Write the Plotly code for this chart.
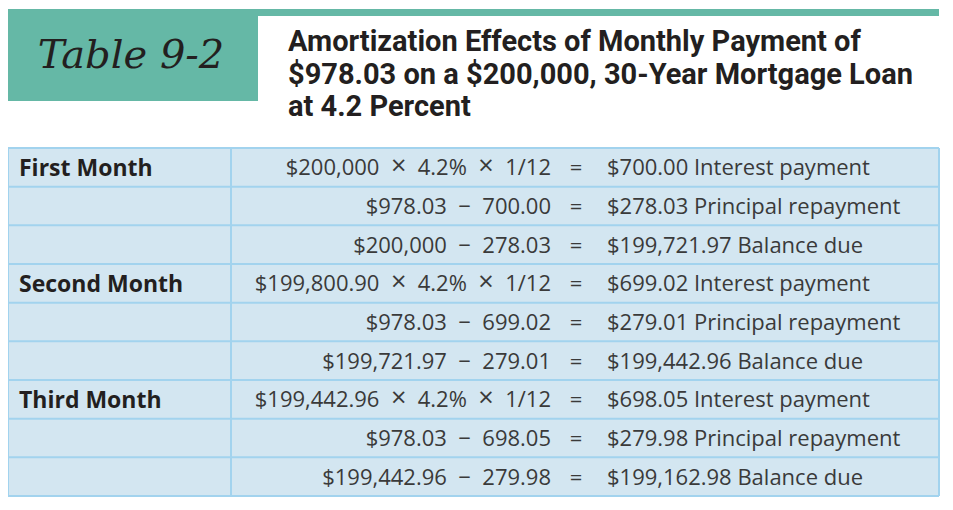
import plotly.graph_objects as go

# ---- data ----
table_label = "Table 9-2"
title_lines = [
    "Amortization Effects of Monthly Payment of",
    "$978.03 on a $200,000, 30-Year Mortgage Loan",
    "at 4.2 Percent",
]
months = ["First Month", "", "", "Second Month", "", "", "Third Month", "", ""]
expressions = [
    "$200,000 \u00d7 4.2% \u00d7 1/12",
    "$978.03 \u2212 700.00",
    "$200,000 \u2212 278.03",
    "$199,800.90 \u00d7 4.2% \u00d7 1/12",
    "$978.03 \u2212 699.02",
    "$199,721.97 \u2212 279.01",
    "$199,442.96 \u00d7 4.2% \u00d7 1/12",
    "$978.03 \u2212 698.05",
    "$199,442.96 \u2212 279.98",
]
results = [
    "$700.00 Interest payment",
    "$278.03 Principal repayment",
    "$199,721.97 Balance due",
    "$699.02 Interest payment",
    "$279.01 Principal repayment",
    "$199,442.96 Balance due",
    "$698.05 Interest payment",
    "$279.98 Principal repayment",
    "$199,162.98 Balance due",
]

# ---- layout constants (data coords == screen pixels) ----
PAGE_OFF = 8          # default body margin of the html page
W, H = 953, 510
TEAL = "#65b8a6"
FILL = "#d3e6f1"
BORDER = "#a2d3ee"
TXT = "#3a3a3a"
DARK = "#231f20"

T_LEFT, T_RIGHT, T_TOP, T_BOT = 8, 939, 148, 496
DIV_X = 231
n = len(months)
row_h = (T_BOT - T_TOP) / n
TEXT_DY = 2.5
rows_y = [T_TOP + (i + 0.5) * row_h + TEXT_DY for i in range(n)]


def pad_ops(s):
    # the typeset original uses wide spacing and a larger times sign
    s = s.replace(" \u00d7 ", "\u00a0 <span style='font-size:27px'>\u00d7</span> \u00a0")
    s = s.replace(" \u2212 ", "\u00a0 \u2212 \u00a0")
    return s


fig = go.Figure()

shapes = []
shapes.append(dict(type="rect", x0=258, x1=939, y0=9, y1=16, fillcolor=TEAL, line_width=0, layer="below"))
shapes.append(dict(type="rect", x0=7, x1=258, y0=9, y1=101, fillcolor=TEAL, line_width=0, layer="below"))
shapes.append(dict(type="rect", x0=T_LEFT, x1=T_RIGHT, y0=T_TOP, y1=T_BOT, fillcolor=FILL, line_width=0, layer="below"))
for i in range(n + 1):
    y = T_TOP + i * row_h
    shapes.append(dict(type="line", x0=T_LEFT, x1=T_RIGHT, y0=y, y1=y, line=dict(color=BORDER, width=2)))
for x in (T_LEFT, DIV_X, T_RIGHT):
    shapes.append(dict(type="line", x0=x, x1=x, y0=T_TOP, y1=T_BOT, line=dict(color=BORDER, width=2)))
for s in shapes:
    s["xref"] = "x"
    s["yref"] = "y"

fig.add_trace(go.Scatter(
    x=[131], y=[58], mode="text", text=[table_label], textposition="middle center",
    textfont=dict(family="DejaVu Serif", size=40, color=DARK, style="italic"),
    hoverinfo="skip", showlegend=False))
fig.add_trace(go.Scatter(
    x=[288] * len(title_lines), y=[44, 77, 109], mode="text", text=title_lines,
    textposition="middle right",
    textfont=dict(family="Roboto", size=29, color=DARK, weight="bold"),
    hoverinfo="skip", showlegend=False))

fig.add_trace(go.Scatter(
    x=[19] * n, y=rows_y, mode="text", text=months, textposition="middle right",
    textfont=dict(family="Open Sans", size=23, color=DARK, weight="bold"),
    hoverinfo="skip", showlegend=False))
fig.add_trace(go.Scatter(
    x=[551] * n, y=rows_y, mode="text", text=[pad_ops(e) for e in expressions],
    textposition="middle left",
    textfont=dict(family="Open Sans", size=22, color=TXT),
    hoverinfo="skip", showlegend=False))
fig.add_trace(go.Scatter(
    x=[576] * n, y=rows_y, mode="text", text=["="] * n, textposition="middle center",
    textfont=dict(family="Open Sans", size=22, color=TXT),
    hoverinfo="skip", showlegend=False))
fig.add_trace(go.Scatter(
    x=[607] * n, y=rows_y, mode="text", text=results, textposition="middle right",
    textfont=dict(family="Open Sans", size=22, color=TXT),
    hoverinfo="skip", showlegend=False))

fig.update_layout(
    width=W - 2 * PAGE_OFF, height=H - 2 * PAGE_OFF,
    margin=dict(l=0, r=0, t=0, b=0),
    paper_bgcolor="white", plot_bgcolor="white",
    xaxis=dict(range=[PAGE_OFF, W - PAGE_OFF], visible=False, fixedrange=True),
    yaxis=dict(range=[H - PAGE_OFF, PAGE_OFF], visible=False, fixedrange=True),
    shapes=shapes, showlegend=False,
)
fig.write_html("out.html", config={"displayModeBar": False})
